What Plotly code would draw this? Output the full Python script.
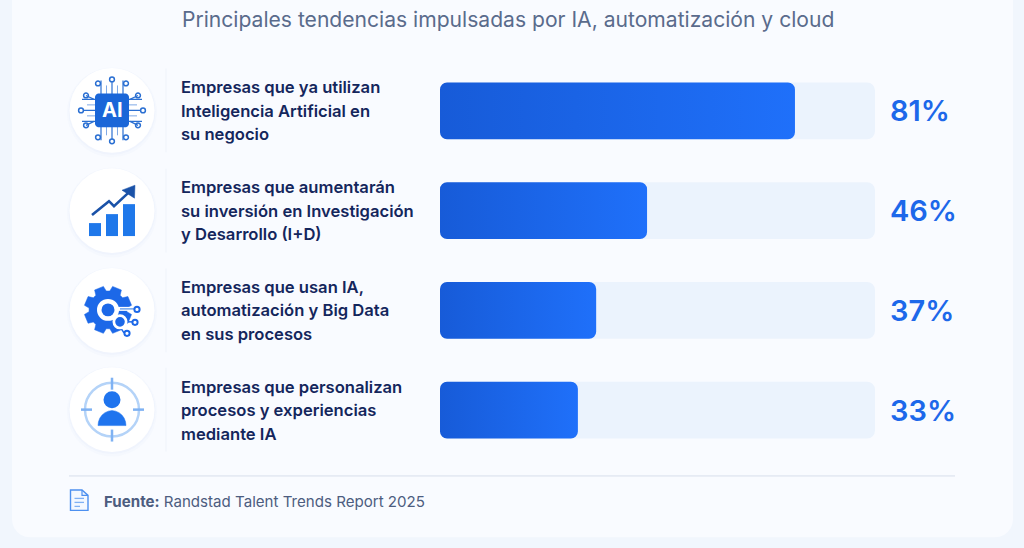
import math
import plotly.graph_objects as go

# ---- data ----
categories = ['Uso IA', 'Inversion I+D', 'IA y Big Data', 'Personalizacion']
# bar lengths as drawn in the picture (slightly off the printed percentages)
bar_lengths = [81.6, 47.6, 35.9, 31.7]
track_values = [100, 100, 100, 100]
pct_labels = ['81%', '46%', '37%', '33%']
row_texts = [
    ['Empresas que ya utilizan', 'Inteligencia Artificial en', 'su negocio'],
    ['Empresas que aumentarán', 'su inversión en Investigación', 'y Desarrollo (I+D)'],
    ['Empresas que usan IA,', 'automatización y Big Data', 'en sus procesos'],
    ['Empresas que personalizan', 'procesos y experiencias', 'mediante IA'],
]
title_text = 'Principales tendencias impulsadas por IA, automatización y cloud'
source_text = '<b>Fuente:</b> Randstad Talent Trends Report 2025'

# ---- colours ----
PAGE_BG = '#f1f6fd'
CARD_BG = '#f9fbff'
TRACK = '#ebf3fd'
BLUE = '#1c68e8'
NAVY = '#14265c'
FONT = 'Inter'

# plot area in pixels
W, H = 1024, 548
LEFT, RIGHT, TOP, BOTTOM = 440, 875, 60.5, 460.5


def px(x):
    return (x - LEFT) / (RIGHT - LEFT)


def py(y):
    return 1 - (y - TOP) / (BOTTOM - TOP)


shapes = []


def add_circle(cx, cy, r, fill=None, line=None, lw=0):
    shapes.append(dict(type='circle', xref='paper', yref='paper',
                       x0=px(cx - r), x1=px(cx + r), y0=py(cy + r), y1=py(cy - r),
                       fillcolor=fill or 'rgba(0,0,0,0)', line=dict(color=line or 'rgba(0,0,0,0)', width=lw),
                       layer='below'))


def add_rect(x0, y0, x1, y1, fill):
    shapes.append(dict(type='rect', xref='paper', yref='paper',
                       x0=px(x0), x1=px(x1), y0=py(y1), y1=py(y0),
                       fillcolor=fill, line=dict(width=0), layer='below'))


def add_line(points, color, lw, fill=None, close=False):
    d = 'M ' + ' L '.join(f'{px(a):.5f},{py(b):.5f}' for a, b in points)
    if close:
        d += ' Z'
    shapes.append(dict(type='path', xref='paper', yref='paper', path=d,
                       fillcolor=fill or 'rgba(0,0,0,0)',
                       line=dict(color=color, width=lw), layer='below'))


def rounded_rect(x0, y0, x1, y1, r, fill, line=None, lw=0):
    n = 6
    pts = []
    for cx, cy, start in [(x1 - r, y0 + r, -90), (x1 - r, y1 - r, 0), (x0 + r, y1 - r, 90), (x0 + r, y0 + r, 180)]:
        for i in range(n + 1):
            a = math.radians(start + 90 * i / n)
            pts.append((cx + r * math.cos(a), cy + r * math.sin(a)))
    add_line(pts, line or 'rgba(0,0,0,0)', lw, fill=fill, close=True)


# card
rounded_rect(12, -30, 1013, 538, 18, CARD_BG)

# icon discs and dividers
centers = [(112, 110), (112, 210.5), (112, 310.5), (112, 410)]
for cx, cy in centers:
    add_circle(cx, cy + 2, 45, fill='rgba(200,218,245,0.07)')
    add_circle(cx, cy + 1, 43.5, fill='rgba(200,218,245,0.10)')
    add_circle(cx, cy, 42.5, fill='#ffffff')
    add_line([(166, cy - 42), (166, cy + 42)], '#eff3fa', 1)

# AI chip icon
cx, cy = centers[0]
CHIP = '#2a6fd2'
for off in (-11, 0, 11):
    add_line([(cx - 30, cy + off), (cx + 30, cy + off)], CHIP, 1.2)
    add_line([(cx + off, cy - 30), (cx + off, cy + 30)], CHIP, 1.2)
for off in (-5.5, 5.5):
    add_line([(cx - 25, cy + off), (cx + 25, cy + off)], '#7fa9e6', 1)
    add_line([(cx + off, cy - 25), (cx + off, cy + 25)], '#7fa9e6', 1)
for dx, dy in [(-31, 0), (31, 0), (0, -31), (0, 31), (-26, -15), (26, -15), (-26, 15), (26, 15),
               (-14, -27), (14, -27), (-14, 27), (14, 27)]:
    add_circle(cx + dx, cy + dy, 2.4, fill='#ffffff', line=CHIP, lw=1.5)
add_line([(cx - 26, cy - 15), (cx - 18, cy - 11)], CHIP, 1.2)
add_line([(cx + 26, cy - 15), (cx + 18, cy - 11)], CHIP, 1.2)
add_line([(cx - 26, cy + 15), (cx - 18, cy + 11)], CHIP, 1.2)
add_line([(cx + 26, cy + 15), (cx + 18, cy + 11)], CHIP, 1.2)
rounded_rect(cx - 17, cy - 17, cx + 17, cy + 17, 4, '#1a66d8')

# growth icon
add_rect(89, 223, 101, 236, '#1f78ea')
add_rect(106, 214, 118, 236, '#1f78ea')
add_rect(123, 204, 135, 236, '#1f78ea')
add_line([(92, 215), (109, 201), (114, 206), (128, 193)], '#1a52a8', 2.6)
add_line([(135, 185), (134.5, 198), (122, 190)], '#1a52a8', 0.5, fill='#1a52a8', close=True)

# gear icon
gx, gy = 108, 310
gear = []
for i in range(8):
    a = i * math.pi / 4 - math.pi / 8
    for da, r in [(-0.30, 19), (-0.20, 24), (0.20, 24), (0.30, 19)]:
        gear.append((gx + r * math.cos(a + da), gy + r * math.sin(a + da)))
add_line(gear, BLUE, 0.5, fill=BLUE, close=True)
add_circle(gx, gy, 11, fill='#ffffff')
add_circle(gx, gy, 6.5, fill=BLUE)
add_line([(118, 309), (137, 309)], '#ffffff', 4)
add_line([(120, 309), (134, 309)], '#6ea4ee', 1.5)
add_line([(127, 322), (132, 322)], BLUE, 1.5)
add_line([(118, 324), (124, 333)], BLUE, 1.5)
add_circle(120, 322, 7.5, fill='#ffffff')
add_circle(120, 322, 4.8, fill=BLUE)
add_circle(137, 309.5, 2.6, fill='#ffffff', line=BLUE, lw=2)
add_circle(135, 322.5, 2.6, fill='#ffffff', line=BLUE, lw=2)
add_circle(127, 333.5, 2.6, fill='#ffffff', line=BLUE, lw=2)

# target / person icon
tx, ty = centers[3]
add_circle(tx, ty, 27, line='#b4d3f8', lw=2.5)
for p in [[(tx - 31, ty), (tx - 20, ty)], [(tx + 21, ty), (tx + 32, ty)],
          [(tx, ty - 32), (tx, ty - 20)], [(tx, ty + 20), (tx, ty + 32)]]:
    add_line(p, '#7fb2f3', 2.5)
add_circle(tx, 400, 8.5, fill='#1f74ee')
dome = [(tx - 14 * math.cos(math.radians(a)), 426 - 15 * math.sin(math.radians(a))) for a in range(0, 181, 15)]
add_line(dome, '#1f74ee', 0.5, fill='#1f74ee', close=True)

# footer rule and document icon
add_line([(69, 476.5), (955, 476.5)], '#d7dfeb', 1)
add_line([(70.5, 490.5), (82, 490.5), (88, 496), (88, 511), (70.5, 511)], '#4d90f0', 1.4, fill='#f4f8ff', close=True)
add_line([(82, 490.5), (82, 496), (88, 496)], '#4d90f0', 1.2)
for y, x1 in [(499, 84), (503, 84), (507, 80)]:
    add_line([(74.5, y), (x1, y)], '#7fb0f4', 1.3)

fig = go.Figure()
fig.add_trace(go.Bar(y=categories, x=track_values, orientation='h', width=0.57,
                     marker=dict(color=TRACK, line=dict(width=0)),
                     hoverinfo='skip', showlegend=False))
fig.add_trace(go.Bar(y=categories, x=bar_lengths, orientation='h', width=0.57,
                     marker=dict(color=BLUE, line=dict(width=0)),
                     showlegend=False))

annotations = []
for cat, lines, pct in zip(categories, row_texts, pct_labels):
    for line, shift in zip(lines, (23.5, 0, -23.5)):
        annotations.append(dict(x=px(179), xref='paper', y=cat, yref='y', yshift=shift, text=line,
                                xanchor='left', yanchor='middle', showarrow=False,
                                font=dict(family=FONT, size=16.6, color=NAVY, weight=600)))
    annotations.append(dict(x=px(888), xref='paper', y=cat, yref='y', text=pct,
                            xanchor='left', yanchor='middle', showarrow=False,
                            font=dict(family=FONT, size=29, color='#1d68ea', weight=600)))
annotations.append(dict(x=px(507.5), xref='paper', y=py(18.5), yref='paper', text=title_text,
                        xanchor='center', yanchor='middle', showarrow=False,
                        font=dict(family=FONT, size=21.1, color='#5a6b8c')))
annotations.append(dict(x=px(102), xref='paper', y=py(502.5), yref='paper', text=source_text,
                        xanchor='left', yanchor='middle', showarrow=False,
                        font=dict(family=FONT, size=15.1, color='#4d5d80')))
annotations.append(dict(x=px(112), xref='paper', y=py(110), yref='paper', text='<b>AI</b>',
                        xanchor='center', yanchor='middle', showarrow=False,
                        font=dict(family=FONT, size=20, color='#ffffff')))

fig.update_layout(
    width=W, height=H, barmode='overlay',
    margin=dict(l=LEFT, r=W - RIGHT, t=TOP, b=H - BOTTOM, pad=0),
    paper_bgcolor=PAGE_BG, plot_bgcolor='rgba(0,0,0,0)',
    xaxis=dict(range=[0, 100], visible=False),
    yaxis=dict(categoryorder='array', categoryarray=categories, autorange='reversed', visible=False),
    shapes=shapes, annotations=annotations,
)

# plotly only rounds the far end of a bar and has no gradient fill, so finish them in the page
post = """
document.body.style.margin = '0';
var gd = document.getElementsByClassName('plotly-graph-div')[0];
var svg = gd.querySelector('.main-svg');
var ns = 'http://www.w3.org/2000/svg';
var g = document.createElementNS(ns, 'linearGradient');
g.setAttribute('id', 'barfill');
[['0%', '#175bd8'], ['100%', '#1f70fa']].forEach(function (s) {
  var st = document.createElementNS(ns, 'stop');
  st.setAttribute('offset', s[0]);
  st.setAttribute('stop-color', s[1]);
  g.appendChild(st);
});
svg.querySelector('defs').appendChild(g);
function roundBar(p, r) {
  var b = p.getBBox();
  var x0 = b.x, x1 = b.x + b.width, y0 = b.y, y1 = b.y + b.height;
  p.setAttribute('d', 'M' + (x0 + r) + ',' + y0 + 'H' + (x1 - r) + 'A' + r + ',' + r + ' 0 0 1 ' + x1 + ',' + (y0 + r) +
    'V' + (y1 - r) + 'A' + r + ',' + r + ' 0 0 1 ' + (x1 - r) + ',' + y1 +
    'H' + (x0 + r) + 'A' + r + ',' + r + ' 0 0 1 ' + x0 + ',' + (y1 - r) +
    'V' + (y0 + r) + 'A' + r + ',' + r + ' 0 0 1 ' + (x0 + r) + ',' + y0 + 'Z');
}
var traces = gd.querySelectorAll('.barlayer .trace');
traces[0].querySelectorAll('path').forEach(function (p) { roundBar(p, 8); });
traces[1].querySelectorAll('path').forEach(function (p) {
  roundBar(p, 7);
  p.style.fill = 'url(#barfill)';
});
"""

fig.write_html('out.html', post_script=post, config={'displayModeBar': False})
